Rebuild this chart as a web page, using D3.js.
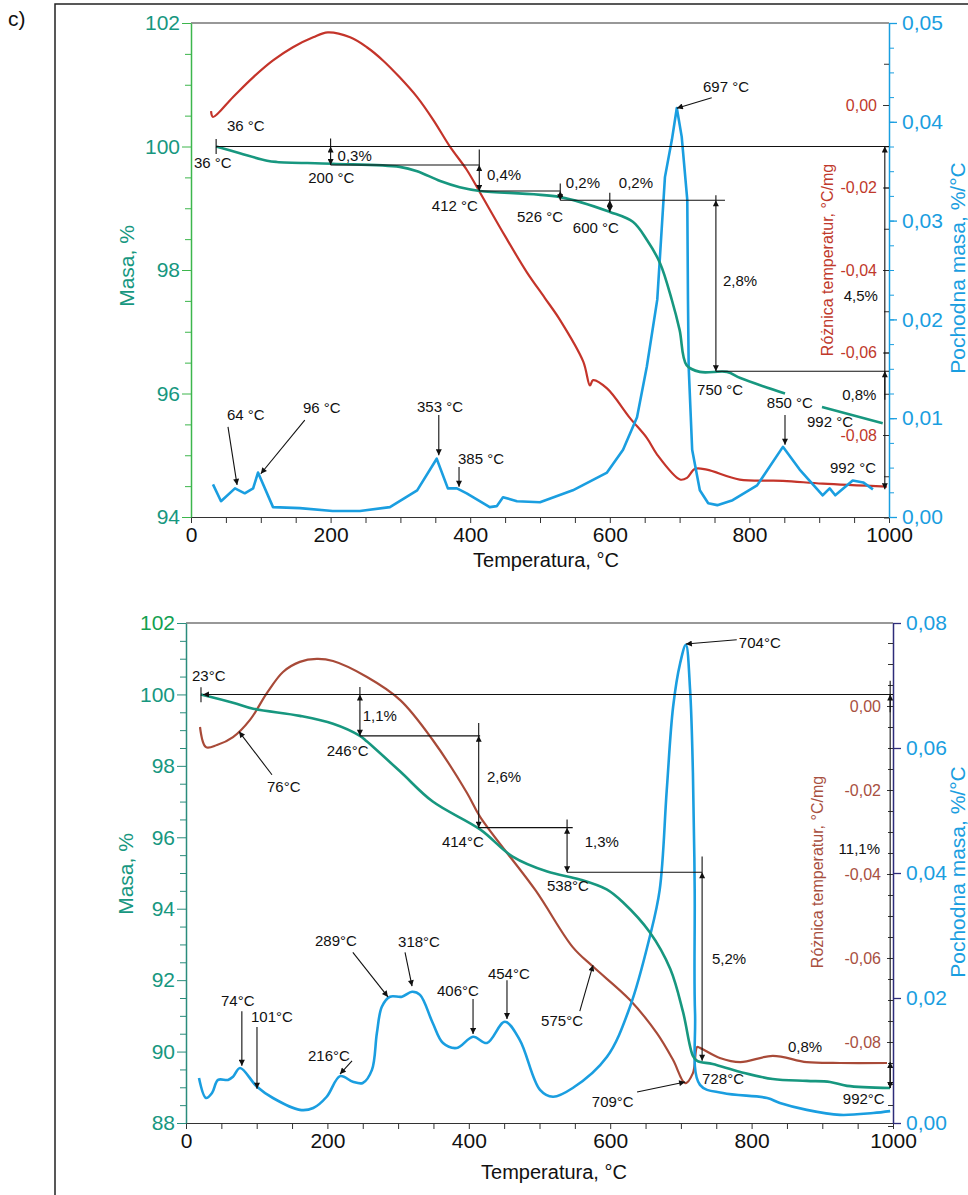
<!DOCTYPE html>
<html><head><meta charset="utf-8">
<script src="https://cdn.jsdelivr.net/npm/d3@7"></script>
<style>
body{margin:0;background:#fff;}
svg{display:block;font-family:"Liberation Sans",Arial,sans-serif;}
</style></head><body>
<svg id="c" width="968" height="1195"></svg>
<script>
// ---------------- DATA ----------------
const tempTicks = [0, 200, 400, 600, 800, 1000];
const topMassTicks = [94, 96, 98, 100, 102];
const topDtgTicks = [0, 0.01, 0.02, 0.03, 0.04, 0.05];
const topDtaTicks = [0, -0.02, -0.04, -0.06, -0.08];
const bottomMassTicks = [88, 90, 92, 94, 96, 98, 100, 102];
const bottomDtgTicks = [0, 0.02, 0.04, 0.06, 0.08];
const bottomDtaTicks = [0, -0.02, -0.04, -0.06, -0.08];

// top panel: TG (mass %), DTA (°C/mg), DTG (%/°C)
const topTG = [[36,100.0],[70,99.89],[109,99.77],[123,99.75],[203,99.72],[299,99.67],[324,99.60],[357,99.44],[385,99.34],[414,99.28],[529,99.18],[600,98.94],[633,98.78],[653,98.49],[672,98.11],[689,97.51],[700,97.03],[710,96.46],[729,96.35],[768,96.35],[787,96.25],[851,96.0],[870,null],[904,95.78],[991,95.52]];
const topDTA = [[28.7,-0.0015],[31.5,-0.0029],[60,0.0019],[89,0.0067],[117.5,0.0108],[146,0.0140],[175,0.0164],[196,0.0176],[228,0.0164],[252,0.0140],[275,0.0108],[299,0.0067],[324,0.0019],[347,-0.0036],[371,-0.0101],[395,-0.0157],[414,-0.0212],[450,-0.0318],[481,-0.0405],[507,-0.0468],[529,-0.0522],[562,-0.0622],[571.6,-0.0680],[576,-0.0667],[596,-0.0687],[629,-0.0759],[653,-0.0807],[668,-0.0848],[700.6,-0.0908],[710.6,-0.0904],[722,-0.0882],[739,-0.0884],[786,-0.0908],[848,-0.0911],[905,-0.0918],[997,-0.0925]];
const topDTG = [[31.5,0.0033],[43,0.0016],[63,0.0029],[77,0.0024],[89,0.0029],[96,0.0045],[117.5,0.0010],[156,0.0009],[203,0.0006],[242,0.0006],[285,0.0010],[324,0.0027],[352,0.0059],[368,0.0029],[381,0.0029],[395,0.0024],[428,0.0010],[438,0.0011],[447,0.0020],[467,0.0016],[500,0.0015],[547,0.0027],[596,0.0045],[619,0.0068],[639,0.0101],[653,0.0152],[668,0.0220],[679,0.0344],[689,0.0382],[696,0.0414],[703,0.0385],[711,0.0321],[712,0.0220],[713,0.0152],[718,0.0068],[729,0.0027],[741,0.0014],[754,0.0012],[776,0.0017],[811,0.0032],[848,0.0071],[872,0.0048],[905,0.0022],[915,0.0029],[923,0.0022],[948,0.0037],[963,0.0035],[977,0.0028]];

// bottom panel
const bottomTG = [[21,100.0],[66.5,99.77],[95,99.60],[161,99.40],[208,99.18],[246,98.84],[256,98.68],[303,97.84],[349,97.00],[416,96.22],[462,95.46],[511,95.04],[557,94.82],[595,94.54],[618,94.18],[656,93.34],[685,92.31],[703,91.11],[717,89.88],[723,89.74],[745,89.65],[784,89.43],[830,89.23],[878,89.18],[911,89.15],[935,89.04],[996,88.98]];
const bottomDTA = [[19.8,-0.0050],[28.3,-0.0098],[43.8,-0.0093],[66.5,-0.0074],[90.5,-0.0033],[114.6,0.0031],[137.2,0.0081],[161,0.0105],[185,0.0112],[208,0.0107],[256,0.0069],[303,0.0014],[349,-0.0081],[397.5,-0.0207],[416,-0.0264],[494,-0.0438],[547,-0.0574],[576,-0.0621],[628,-0.0700],[666,-0.0779],[689,-0.0843],[706,-0.0898],[717,-0.0874],[723,-0.0812],[727,-0.0814],[755,-0.0838],[784,-0.0848],[830,-0.0833],[878,-0.0848],[925,-0.0850],[991.5,-0.0850]];
const bottomDTG = [[18.4,0.0072],[28.3,0.0040],[36.8,0.0048],[45.3,0.0069],[59.4,0.0069],[66.5,0.0074],[76.4,0.0088],[100.4,0.0058],[123,0.0040],[161,0.0021],[180,0.0024],[199,0.0042],[218,0.0075],[236,0.0066],[250,0.0064],[263,0.0085],[270,0.0144],[277,0.0186],[288.5,0.0202],[305.5,0.0202],[319.7,0.0210],[331,0.0205],[349,0.0160],[363.5,0.0128],[383,0.0120],[406,0.0138],[425.7,0.0128],[451,0.0162],[472,0.0133],[500.7,0.0053],[519,0.0042],[547,0.0056],[595.5,0.0106],[628,0.0186],[656,0.0298],[670,0.0373],[680,0.0533],[689,0.0666],[699,0.0736],[707,0.0765],[713,0.0693],[717,0.0560],[719.5,0.0373],[720,0.0176],[727,0.0061],[759.5,0.0048],[822,0.0040],[840,0.0032],[878,0.0021],[925,0.0013],[972,0.0016],[996,0.0019]];

// annotations (temperature, mass %)
const topTexts = [["36 °C",51.6,100.25],["36 °C",4.3,99.65],["0,3%",210,99.77],["200 °C",168,99.41],["0,4%",424,99.46],["412 °C",345,98.96],["0,2%",537,99.33],["0,2%",613,99.33],["526 °C",467,98.78],["600 °C",547,98.60],["2,8%",762,97.74],["4,5%",984,97.50,"end"],["750 °C",725,95.98],["0,8%",933,95.89],["850 °C",825,95.77],["992 °C",882.5,95.46],["992 °C",915.5,94.71],["697 °C",733.5,100.88],["64 °C",51.6,95.57],["96 °C",160.5,95.68],["353 °C",323.8,95.70],["385 °C",382.5,94.86]];
const topLines = [[36,100,1000,100],[36,100.12,36,99.88],[200,100.13,200,100],[200,99.70,413,99.70],[413,99.95,413,99.70],[413,99.28,529,99.28],[529,99.40,529,99.28],[529,99.13,765,99.13],[600,99.25,600,99.13],[752,99.21,752,99.13],[752,96.36,1000,96.36]];
const topArrows = [[200,100,200,99.70,1],[413,99.70,413,99.28,1],[529,99.28,529,99.13,1],[600,99.13,600,98.94,1],[752,99.13,752,96.36,1],[994,100,994,94.45,1],[994,95.9,994,96.36,0],[851,95.65,851,95.17,0],[746,100.79,696,100.62,0],[53,95.46,66,94.52,0],[163,95.57,100,94.70,0],[355,95.65,355,95.0,0],[384,94.81,384,94.49,0]];

const bottomTexts = [["23°C",8.5,100.38],["1,1%",250,99.26],["246°C",199,98.28],["2,6%",425.7,97.56],["414°C",362,95.72],["1,3%",564,95.72],["538°C",510.6,94.49],["5,2%",744,92.45],["728°C",730,89.09],["0,8%",851.5,89.99],["992°C",929,88.54],["11,1%",981.6,95.52,"end"],["709°C",574,88.45],["575°C",561.5,90.72,"end"],["704°C",782,101.30],["76°C",114.6,97.28],["74°C",49.5,91.27],["101°C",92,90.83],["216°C",172.6,89.74],["289°C",182.5,92.95],["318°C",300,92.92],["406°C",355,91.55],["454°C",427,92.03]];
const bottomLines = [[21.2,100.2,21.2,99.78],[246,100.21,246,100],[246,98.84,416,98.84],[414,99.2,414,98.84],[414,96.27,547,96.27],[539,96.5,539,96.27],[539,95.02,730,95.02],[730,95.46,730,95.02],[996,100.38,996,100],[996,100,996,88.98]];
const bottomArrows = [[1000,100,24,100,0],[246,100,246,98.84,1],[414,98.84,414,96.27,1],[539,96.27,539,95.02,1],[730,95.02,730,89.74,1],[996,99.5,996,100,0],[996,89.71,996,88.98,1],[638,88.87,706,89.15,0],[557,91.13,575.7,92.42,0],[779,101.53,707,101.41,0],[121.6,97.75,75,98.96,0],[79,91.13,79,89.60,0],[100.4,90.69,100.4,88.96,0],[234.8,89.74,217.8,89.37,0],[236,92.78,285.7,91.53,0],[309.8,92.78,319.7,91.83,0],[406,91.47,406,90.49,0],[454,92.0,454,90.91,0]];

// ---------------- DRAW ----------------
const svg = d3.select("#c");
const defs = svg.append("defs");
defs.append("marker").attr("id","ah").attr("viewBox","0 0 10 10").attr("refX",10).attr("refY",5)
  .attr("markerWidth",8).attr("markerHeight",6).attr("markerUnits","userSpaceOnUse").attr("orient","auto-start-reverse")
  .append("path").attr("d","M0,0 L10,5 L0,10 z").attr("fill","#111");

// outer frame and panel letter
svg.append("path").attr("d","M55,1195 L55,4 L968,4").attr("fill","none").attr("stroke","#222").attr("stroke-width",1.5);
svg.append("text").attr("x",8).attr("y",26).attr("font-size",21).attr("fill","#111").text("c)");

const fmtC = f => d => d3.format(f)(d).replace(".", ",").replace("\u2212","-");

function panel(c) {
  const g = svg.append("g");
  const x = d3.scaleLinear().domain([0,1000]).range(c.xr);
  const yM = d3.scaleLinear().domain(c.massDom).range(c.yr);
  const yB = d3.scaleLinear().domain(c.dtgDom).range(c.yr);
  const yR = d3.scaleLinear().domain([0,-0.08]).range(c.dtaR);
  const [x0,x1] = c.xr, [yb,yt] = c.yr;

  // top border
  g.append("line").attr("x1",x0).attr("x2",x1).attr("y1",yt).attr("y2",yt).attr("stroke","#333").attr("stroke-width",1.2);

  // x axis
  const xa = g.append("g").attr("transform",`translate(0,${yb})`)
    .call(d3.axisBottom(x).tickValues(d3.range(0,1001,50)).tickFormat(d => tempTicks.includes(d) ? d : "").tickSize(6).tickSizeOuter(0).tickPadding(4));
  xa.select(".domain").attr("stroke","#333").attr("stroke-width",1.2);
  xa.selectAll("line").attr("stroke","#333");
  xa.selectAll("text").attr("font-size",21).attr("fill","#111").attr("font-family","Liberation Sans, Arial");
  g.append("text").attr("x",c.xTitleX).attr("y",c.xTitleY).attr("text-anchor","middle").attr("font-size",20).attr("fill","#111").text("Temperatura, °C");

  // left mass axis
  const lo = c.massDom[0], hi = c.massDom[1];
  const la = g.append("g").attr("transform",`translate(${x0},0)`)
    .call(d3.axisLeft(yM).tickValues(d3.range(lo,hi+0.01,0.5)).tickFormat(d => c.massTicks.includes(d) ? d : "").tickSize(8).tickSizeOuter(0).tickPadding(3));
  la.select(".domain").attr("stroke",c.leftAxisColor).attr("stroke-width",1.5);
  la.selectAll(".tick line").attr("stroke",c.leftAxisColor).attr("x2", d => c.massTicks.includes(d) ? -9 : -6);
  la.selectAll("text").attr("font-size",21).attr("fill","#17977f").attr("font-family","Liberation Sans, Arial");
  if (c.topLabelColor) la.selectAll("text").filter(d => d === hi).attr("fill", c.topLabelColor);
  g.append("text").attr("transform",`translate(${c.massTitleX},${c.massTitleY}) rotate(-90)`).attr("text-anchor","middle")
    .attr("font-size",21).attr("fill","#17977f").text("Masa, %");

  // right DTG axis (blue)
  const ra = g.append("g").attr("transform",`translate(${x1},0)`)
    .call(d3.axisRight(yB).tickValues(c.dtgTicks).tickFormat(fmtC(".2f")).tickSize(8).tickSizeOuter(0).tickPadding(5));
  ra.select(".domain").attr("stroke",c.rightAxisColor).attr("stroke-width",1.5);
  ra.selectAll("line").attr("stroke",c.rightAxisColor).attr("stroke-width",1.3);
  ra.selectAll("text").attr("font-size",21).attr("fill","#1a9ee0").attr("font-family","Liberation Sans, Arial");
  g.append("g").attr("transform",`translate(${x1},0)`)
    .call(d3.axisRight(yB).tickValues(d3.range(0,c.dtgDom[1]+1e-9,c.dtgMinor)).tickFormat("").tickSize(5).tickSizeOuter(0))
    .call(s => { s.select(".domain").remove(); s.selectAll("line").attr("stroke",c.rightAxisColor); });

  // DTA axis (red) labels on the left of the right axis line
  const rr = g.append("g").attr("transform",`translate(${x1},0)`)
    .call(d3.axisLeft(yR).tickValues(c.dtaTicks).tickFormat(fmtC(".2f")).tickSize(6).tickSizeOuter(0).tickPadding(6));
  rr.select(".domain").remove();
  rr.selectAll("line").attr("stroke","#333");
  rr.selectAll("text").attr("font-size",16).attr("fill",c.dtaColor).attr("font-family","Liberation Sans, Arial");
  g.append("g").attr("transform",`translate(${x1},0)`)
    .call(d3.axisLeft(yR).tickValues(d3.range(c.dtaMinorRange[0],c.dtaMinorRange[1]-1e-9,-c.dtaMinor)).tickFormat("").tickSize(5).tickSizeOuter(0))
    .call(s => { s.select(".domain").remove(); s.selectAll("line").attr("stroke","#333"); });

  g.append("text").attr("transform",`translate(${c.dtaTitleX},${c.dtaTitleY}) rotate(-90)`).attr("text-anchor","middle")
    .attr("font-size",16).attr("fill",c.dtaColor).text("Różnica temperatur, °C/mg");
  g.append("text").attr("transform",`translate(${c.dtgTitleX},${c.dtgTitleY}) rotate(-90)`).attr("text-anchor","middle")
    .attr("font-size",21).attr("fill","#1a9ee0").text("Pochodna masa, %/°C");

  // curves
  const cr = d3.curveCatmullRom.alpha(0.5);
  g.append("path").datum(c.dta).attr("fill","none").attr("stroke",c.dtaLine).attr("stroke-width",2.2)
    .attr("d", d3.line().x(d=>x(d[0])).y(d=>yR(d[1])).curve(cr));
  g.append("path").datum(c.dtg).attr("fill","none").attr("stroke","#1a9ee0").attr("stroke-width",2.6).attr("stroke-linejoin","round")
    .attr("d", d3.line().x(d=>x(d[0])).y(d=>yB(d[1])).curve(c.dtgCurve));
  g.append("path").datum(c.tg).attr("fill","none").attr("stroke","#17977f").attr("stroke-width",2.6)
    .attr("d", d3.line().defined(d=>d[1]!==null).x(d=>x(d[0])).y(d=>yM(d[1])).curve(cr));

  // annotations
  const an = g.append("g").attr("stroke","#111").attr("stroke-width",1.1);
  c.lines.forEach(([t1,m1,t2,m2]) => an.append("line").attr("x1",x(t1)).attr("y1",yM(m1)).attr("x2",x(t2)).attr("y2",yM(m2)));
  c.arrows.forEach(([t1,m1,t2,m2,both]) => {
    const l = an.append("line").attr("x1",x(t1)).attr("y1",yM(m1)).attr("x2",x(t2)).attr("y2",yM(m2)).attr("marker-end","url(#ah)");
    if (both) l.attr("marker-start","url(#ah)");
  });
  c.texts.forEach(([s,t,m,anc]) => g.append("text").attr("x",x(t)).attr("y",yM(m)).attr("text-anchor",anc||"start")
    .attr("font-size",15).attr("fill","#111").text(s));
}

panel({
  xr:[191,889], yr:[517,23], massDom:[94,102], dtgDom:[0,0.05], dtaR:[105,435],
  massTicks: topMassTicks, dtgTicks: topDtgTicks, dtaTicks: topDtaTicks, dtgMinor:0.0025,
  dtaMinor:0.01, dtaMinorRange:[0.01,-0.1],
  leftAxisColor:"#3cb64c", rightAxisColor:"#1a9ee0", dtaColor:"#c0392b", dtaLine:"#c4342a",
  xTitleX:546, xTitleY:567, massTitleX:134, massTitleY:266,
  dtaTitleX:833, dtaTitleY:260, dtgTitleX:965, dtgTitleY:268,
  tg: topTG, dta: topDTA, dtg: topDTG, dtgCurve: d3.curveLinear,
  texts: topTexts, lines: topLines, arrows: topArrows
});

panel({
  xr:[186,893], yr:[1123,623], massDom:[88,102], dtgDom:[0,0.08], dtaR:[706,1042],
  massTicks: bottomMassTicks, dtgTicks: bottomDtgTicks, dtaTicks: bottomDtaTicks, dtgMinor:0.02,
  dtaMinor:0.005, dtaMinorRange:[0.015,-0.1],
  leftAxisColor:"#2a8c7c", rightAxisColor:"#2e2c7a", dtaColor:"#a8503f", dtaLine:"#a84a38", topLabelColor:"#12a050",
  xTitleX:554, xTitleY:1179, massTitleX:133, massTitleY:874,
  dtaTitleX:823, dtaTitleY:872, dtgTitleX:965, dtgTitleY:872,
  tg: bottomTG, dta: bottomDTA, dtg: bottomDTG, dtgCurve: d3.curveCatmullRom.alpha(0.5),
  texts: bottomTexts, lines: bottomLines, arrows: bottomArrows
});
</script>
</body></html>
